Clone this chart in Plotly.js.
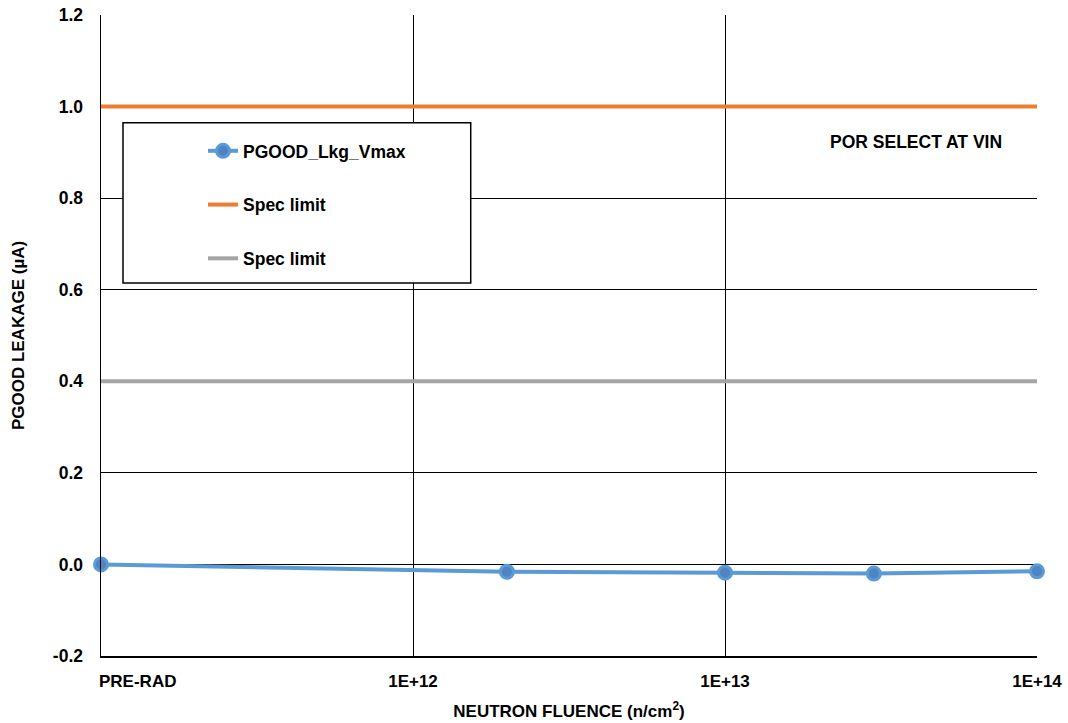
<!DOCTYPE html>
<html>
<head>
<meta charset="utf-8">
<script src="https://cdn.plot.ly/plotly-3.0.1.min.js"></script>
<style>html,body{margin:0;padding:0;background:#fff}#chart{width:1068px;height:723px}</style>
</head>
<body>
<div id="chart"></div>
<script>
const fluence = [1e11, 2e12, 1e13, 3e13, 1e14];
const leakage = [0.0, -0.016, -0.018, -0.02, -0.015];
const specX = [1e11, 1e14];
const specUpper = [1.0, 1.0];
const specLower = [0.4, 0.4];
const xTickVals = [1e11, 1e12, 1e13, 1e14];
const xTickText = ['PRE-RAD', '1E+12', '1E+13', '1E+14'];
const yTickVals = [-0.2, 0, 0.2, 0.4, 0.6, 0.8, 1.0, 1.2];
const yTickText = ['-0.2', '0.0', '0.2', '0.4', '0.6', '0.8', '1.0', '1.2'];

const sans = '"Liberation Sans", Arial, sans-serif';
const b = s => '<b>' + s + '</b>';

const traces = [
  {x: fluence, y: leakage, name: b('PGOOD_Lkg_Vmax'), type: 'scatter', mode: 'lines+markers',
   line: {color: '#5B9BD5', width: 4}, cliponaxis: false,
   marker: {size: 13, color: '#4F84C2', line: {color: '#5B9BD5', width: 3}},
   legendgroup: 'a'},
  {x: specX, y: specUpper, name: b('Spec limit'), type: 'scatter', mode: 'lines',
   line: {color: '#ED7D31', width: 4}, legendgroup: 'b'},
  {x: specX, y: specLower, name: b('Spec limit'), type: 'scatter', mode: 'lines',
   line: {color: '#A5A5A5', width: 4}, legendgroup: 'c'}
];

// first tick label (PRE-RAD) sits right of its tick in the reference, so it is drawn as an annotation
const layout = {
  width: 1068, height: 723,
  margin: {l: 101, r: 31, t: 15, b: 67},
  paper_bgcolor: '#fff', plot_bgcolor: '#fff',
  showlegend: true,
  legend: {x: 0.109, y: 0.816, xanchor: 'left', yanchor: 'top',
    bgcolor: 'rgba(0,0,0,0)', borderwidth: 0, tracegroupgap: 28,
    font: {family: sans, size: 17.5, color: '#000'}},
  xaxis: {type: 'log', range: [11, 14], tickvals: xTickVals.slice(1), ticktext: xTickText.slice(1).map(b),
    showgrid: true, gridcolor: '#000', gridwidth: 1,
    showline: true, linecolor: '#000', linewidth: 2,
    ticks: '', ticklabelstandoff: 9, zeroline: false,
    tickfont: {family: sans, size: 17, color: '#000'},
    title: {text: b('NEUTRON FLUENCE (n/cm<sup>2</sup>)'), standoff: 15,
      font: {family: sans, size: 17, color: '#000'}}},
  yaxis: {range: [-0.2, 1.2], tickvals: yTickVals, ticktext: yTickText.map(b),
    showgrid: true, gridcolor: '#000', gridwidth: 1,
    showline: true, linecolor: '#000', linewidth: 1.5,
    ticks: '', ticklabelstandoff: 13, zeroline: false,
    tickfont: {family: sans, size: 17.5, color: '#000'},
    title: {text: b('PGOOD LEAKAGE (µA)'), standoff: 24,
      font: {family: sans, size: 17, color: '#000'}}},
  shapes: [
    {type: 'rect', xref: 'paper', yref: 'paper', x0: 0.0235, x1: 0.395, y0: 0.582, y1: 0.832,
     line: {color: '#000', width: 1.5}, fillcolor: '#fff', layer: 'above'}
  ],
  annotations: [
    {text: b('POR SELECT AT VIN'), xref: 'paper', yref: 'paper', x: 0.871, y: 0.802,
     xanchor: 'center', yanchor: 'middle',
     showarrow: false, font: {family: sans, size: 17.5, color: '#000'}},
    {text: b(xTickText[0]), xref: 'x', yref: 'paper', x: Math.log10(xTickVals[0]), y: 0,
     xanchor: 'left', yanchor: 'top', xshift: -4, yshift: -14, showarrow: false,
     font: {family: sans, size: 17, color: '#000'}}
  ]
};

Plotly.newPlot('chart', traces, layout, {displayModeBar: false, staticPlot: true});
</script>
</body>
</html>
